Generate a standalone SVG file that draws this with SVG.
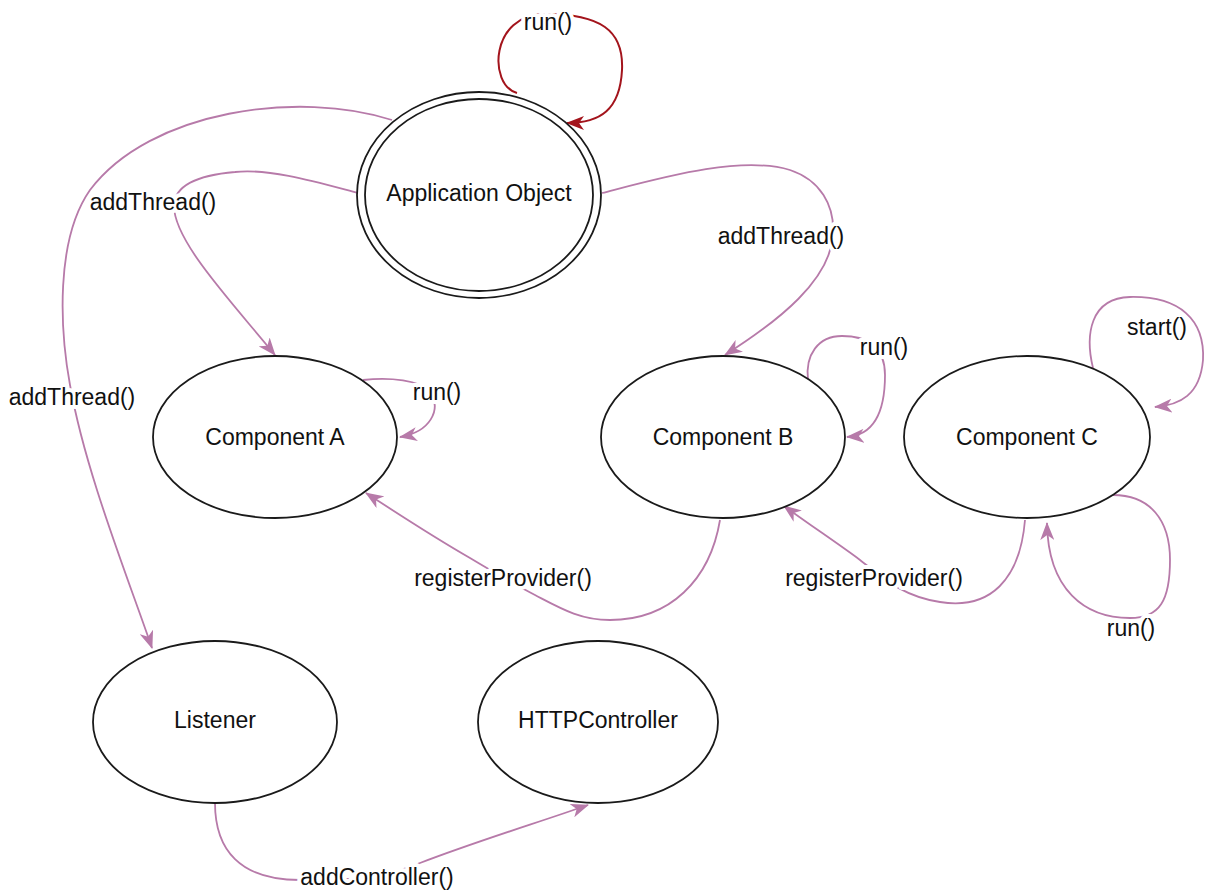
<svg xmlns="http://www.w3.org/2000/svg" width="1206" height="894" viewBox="0 0 1206 894">
<style>
.node{fill:#fff;stroke:#1a1a1a;stroke-width:1.8}
.ntxt{font-family:"Liberation Sans",Arial,sans-serif;font-size:23px;fill:#111;text-anchor:middle}
.e{fill:none;stroke:#b77aa9;stroke-width:1.8}
.er{fill:none;stroke:#a3141c;stroke-width:2}
.lbl{font-family:"Liberation Sans",Arial,sans-serif;font-size:23px;fill:#111;text-anchor:middle;stroke:#fff;stroke-width:8;stroke-linejoin:round;paint-order:stroke}
</style>
<defs>
<marker id="ap" viewBox="0 0 18 14" refX="17" refY="7" markerWidth="18" markerHeight="14" orient="auto" markerUnits="userSpaceOnUse"><path d="M0,0 L18,7 L0,14 L5,7 z" fill="#b77aa9"/></marker>
<marker id="ar" viewBox="0 0 18 14" refX="17" refY="7" markerWidth="18" markerHeight="14" orient="auto" markerUnits="userSpaceOnUse"><path d="M0,0 L18,7 L0,14 L5,7 z" fill="#a3141c"/></marker>
</defs>
<rect width="1206" height="894" fill="#fff"/>
<g id="connectors">
<path class="er" marker-end="url(#ar)" d="M517,93 C488,85 490,14 545,14 C600,14 624,30 622,70 C620,110 600,123 567,123"/>
<path class="e" marker-end="url(#ap)" d="M392,120 C300,90 150,110 90,190 C55,240 60,330 70,385 C85,470 125,570 152,648"/>
<path class="e" marker-end="url(#ap)" d="M358,193 C320,183 270,168 235,172 C200,175 175,185 174,205 C173,240 230,300 275,355"/>
<path class="e" marker-end="url(#ap)" d="M602,193 C660,178 740,155 790,170 C820,180 835,205 833,235 C830,280 780,320 725,355"/>
<path class="e" marker-end="url(#ap)" d="M363,380 C390,377 420,380 430,392 C442,410 430,432 400,437"/>
<path class="e" marker-end="url(#ap)" d="M808,380 C805,355 818,336 842,336 C865,336 885,345 885,375 C885,410 875,435 847,437"/>
<path class="e" marker-end="url(#ap)" d="M1093,368 C1085,335 1090,298 1130,297 C1180,296 1205,320 1203,360 C1200,395 1180,405 1155,407"/>
<path class="e" marker-end="url(#ap)" d="M1113,495 C1150,495 1170,520 1170,560 C1170,600 1160,618 1130,618 C1085,618 1048,590 1047,523"/>
<path class="e" marker-end="url(#ap)" d="M720,520 C710,580 670,620 610,620 C580,620 560,608 535,595 C510,582 490,570 470,558 C430,535 400,515 366,493"/>
<path class="e" marker-end="url(#ap)" d="M1025,520 C1020,580 990,610 940,602 C900,596 880,575 860,560 C840,545 810,525 784,506"/>
<path class="e" marker-end="url(#ap)" d="M215,803 C215,850 240,880 300,880 C340,880 380,880 420,863 C480,840 540,822 588,805"/>
</g>
<g id="node-app">
<ellipse class="node" cx="479" cy="195" rx="122" ry="103"/>
<ellipse class="node" cx="479" cy="195" rx="114" ry="96"/>
<text class="ntxt" x="479" y="201">Application Object</text>
</g>
<g id="node-a">
<ellipse class="node" cx="275" cy="437" rx="122" ry="81"/>
<text class="ntxt" x="275" y="445">Component A</text>
</g>
<g id="node-b">
<ellipse class="node" cx="723" cy="437" rx="122" ry="81"/>
<text class="ntxt" x="723" y="445">Component B</text>
</g>
<g id="node-c">
<ellipse class="node" cx="1027" cy="437" rx="123" ry="81"/>
<text class="ntxt" x="1027" y="445">Component C</text>
</g>
<g id="node-listener">
<ellipse class="node" cx="215" cy="722" rx="122" ry="81"/>
<text class="ntxt" x="215" y="728">Listener</text>
</g>
<g id="node-http">
<ellipse class="node" cx="598" cy="722" rx="120" ry="81"/>
<text class="ntxt" x="598" y="728">HTTPController</text>
</g>
<g id="edge-labels">
<text class="lbl" x="548" y="30">run()</text>
<text class="lbl" x="72" y="405">addThread()</text>
<text class="lbl" x="153" y="210">addThread()</text>
<text class="lbl" x="781" y="244">addThread()</text>
<text class="lbl" x="437" y="400">run()</text>
<text class="lbl" x="884" y="355">run()</text>
<text class="lbl" x="1157" y="335">start()</text>
<text class="lbl" x="1131" y="636">run()</text>
<text class="lbl" x="503" y="586">registerProvider()</text>
<text class="lbl" x="874" y="586">registerProvider()</text>
<text class="lbl" x="377" y="885">addController()</text>
</g>
</svg>
